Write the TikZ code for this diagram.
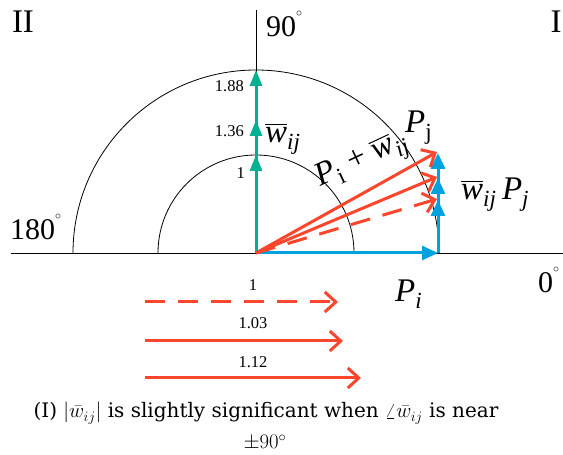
\documentclass[tikz,border=0pt]{standalone}
\usepackage{amsmath}
\usepackage{fontspec}
\setmainfont{Liberation Serif}
\newfontfamily\capfont{DejaVu Serif}
\usetikzlibrary{arrows.meta}
\definecolor{tealc}{RGB}{0,176,146}
\definecolor{bluec}{RGB}{0,162,222}
\definecolor{redc}{RGB}{250,70,45}
\newcommand{\wij}{\ensuremath{\overline{\text{\itshape w}}_{\text{\itshape ij}}}}
\newcommand{\dg}{\raisebox{0.68em}{\fontsize{12}{12}\selectfont$\circ$}}
\tikzset{
  axisline/.style={draw=black, line width=0.8pt},
  tealarrow/.style={draw=tealc, line width=3pt, -{Triangle[length=16pt,width=12pt]}},
  bluearrow/.style={draw=bluec, line width=3pt, -{Triangle[length=16pt,width=14pt]}},
  redarrow/.style={draw=redc, line width=3pt, -{Straight Barb[length=11pt,width=20pt]}},
  reddash/.style={redarrow, dash pattern=on 20pt off 13pt},
  biglab/.style={font=\fontsize{30}{36}\selectfont, inner sep=0pt},
  mathlab/.style={font=\fontsize{33}{40}\selectfont, inner sep=0pt},
  quadlab/.style={font=\fontsize{33}{40}\selectfont, inner sep=0pt},
  numlab/.style={font=\fontsize{16.5}{20}\selectfont, inner sep=0pt},
  caplab/.style={font=\capfont\fontsize{20}{24}\selectfont, inner sep=0pt},
}
\begin{document}
\begin{tikzpicture}[x=1pt,y=1pt]
\useasboundingbox (0,0) rectangle (563,455);
% key points
\coordinate (O) at (256,202);
\coordinate (L) at (11,202);
\coordinate (R) at (563,202);
\coordinate (T) at (256,445);
\coordinate (g1) at (256,300);
\coordinate (g2) at (256,335);
\coordinate (g3) at (256,385);
\coordinate (B) at (438,202);
\coordinate (b1) at (438,255);
\coordinate (b2) at (438,277);
\coordinate (b3) at (438,302);
\coordinate (r1) at (437,256);
\coordinate (r2) at (437,278);
\coordinate (r3) at (437,303);
\coordinate (d1s) at (145,153);
\coordinate (d1e) at (338,153);
\coordinate (d2s) at (145,114);
\coordinate (d2e) at (343,114);
\coordinate (d3s) at (145,77);
\coordinate (d3e) at (361,77);
% axes and circles
\draw[axisline] (L) -- (R);
\draw[axisline] (O) -- (T);
\draw[axisline] ([xshift=-98pt]O) arc[start angle=180, end angle=0, radius=98pt];
\draw[axisline] ([xshift=-183pt]O) arc[start angle=180, end angle=0, radius=183pt];
% teal arrows
\draw[tealarrow] (O) -- (g3);
\draw[tealarrow] (O) -- (g2);
\draw[tealarrow] (O) -- (g1);
% blue arrows
\draw[bluearrow] (O) -- (B);
\draw[bluearrow] (B) -- (b3);
\draw[bluearrow] (B) -- (b2);
\draw[bluearrow] (B) -- (b1);
% red arrows
\draw[reddash] (O) -- (r1);
\draw[redarrow] (O) -- (r2);
\draw[redarrow] (O) -- (r3);
\draw[reddash] (d1s) -- (d1e);
\draw[redarrow] (d2s) -- (d2e);
\draw[redarrow] (d3s) -- (d3e);
% labels
\node[quadlab] (q2) at (23,433) {II};
\node[quadlab] (q1) at (556,433) {I};
\node[biglab, anchor=base west] (a90) at (266,418) {90\dg};
\node[biglab, anchor=base west] (a180) at (10,215) {180\dg};
\node[biglab, anchor=base west] (a0) at (538,162) {0\dg};
\node[numlab, anchor=east] (n188) at (244,369) {1.88};
\node[numlab, anchor=east] (n136) at (244,324) {1.36};
\node[numlab, anchor=east] (n1) at (245,282) {1};
\node[numlab] (m1) at (253,170) {1};
\node[numlab] (m103) at (253,132) {1.03};
\node[numlab] (m112) at (253,93) {1.12};
\node[mathlab, anchor=base west] (wl) at (265,312) {\wij};
\node[mathlab, anchor=base west] (pi) at (395,153) {\textit{P}$_{\text{\itshape i}}$};
\node[mathlab, anchor=base west] (wp) at (461,255) {\wij\,\textit{P}$_{\text{\itshape j}}$};
\node[mathlab, anchor=base west, rotate=25] (sum) at (320,268) {\textit{P}$_{\text{i}}$ + \wij};
\node[mathlab, anchor=base west] (pj) at (405,322) {\textit{P}$_{\text{j}}$};
\node[caplab, anchor=base] (cap1) at (266,37) {(I) $|\bar{w}_{ij}|$ is slightly significant when $\angle\bar{w}_{ij}$ is near};
\node[caplab, anchor=base] (cap2) at (265,6) {$\pm 90^\circ$};
\end{tikzpicture}
\end{document}
